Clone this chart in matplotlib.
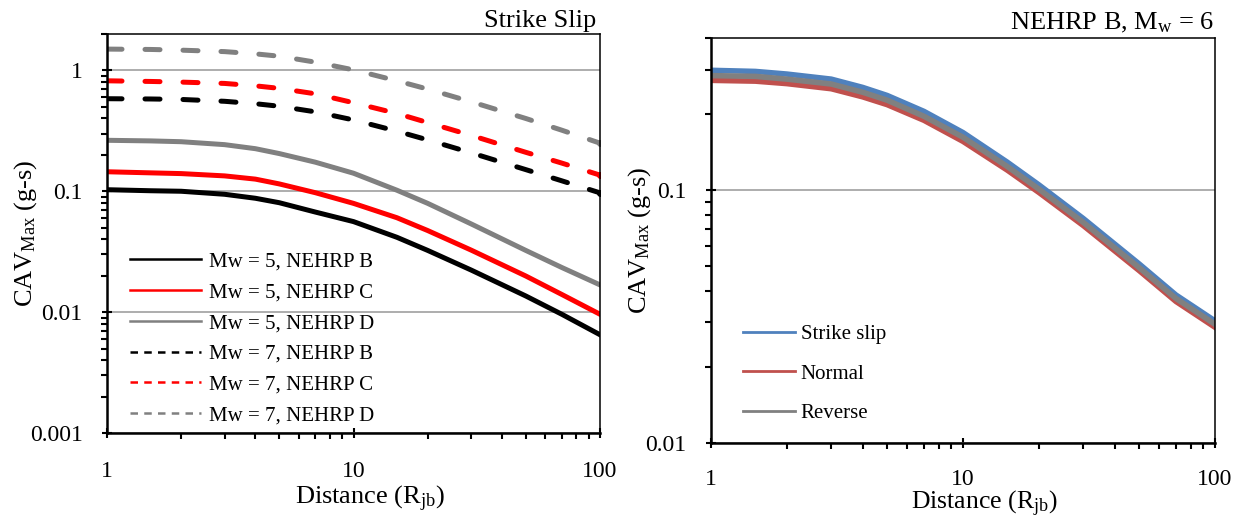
import matplotlib
matplotlib.use("Agg")
import matplotlib.pyplot as plt
from matplotlib.lines import Line2D
from matplotlib.ticker import FixedLocator, FuncFormatter, NullFormatter, LogLocator
import numpy as np

plt.rcParams['font.family'] = ['Liberation Serif', 'DejaVu Serif']
plt.rcParams['mathtext.fontset'] = 'custom'
plt.rcParams['mathtext.rm'] = 'Liberation Serif'
plt.rcParams['mathtext.it'] = 'Liberation Serif:italic'

# distances
dist = [1, 1.5, 2, 3, 4, 5, 7, 10, 15, 20, 30, 50, 70, 100]

# left panel: strike slip, CAVmax (g-s)
m5_b = [0.103, 0.101, 0.100, 0.0944, 0.0875, 0.0804, 0.0673, 0.0561, 0.0416, 0.0324, 0.0223, 0.0136, 0.0096, 0.0065]
m5_c = [0.145, 0.142, 0.140, 0.134, 0.126, 0.115, 0.0973, 0.0794, 0.0604, 0.0473, 0.0326, 0.0199, 0.0140, 0.0096]
m5_d = [0.264, 0.261, 0.257, 0.243, 0.225, 0.205, 0.174, 0.141, 0.102, 0.0794, 0.0537, 0.0324, 0.0234, 0.0168]
m7_b = [0.583, 0.58, 0.575, 0.555, 0.53, 0.505, 0.454, 0.389, 0.314, 0.266, 0.208, 0.151, 0.122, 0.097]
m7_c = [0.82, 0.81, 0.80, 0.78, 0.745, 0.71, 0.64, 0.54, 0.44, 0.37, 0.29, 0.21, 0.171, 0.136]
m7_d = [1.50, 1.49, 1.47, 1.43, 1.37, 1.31, 1.17, 1.01, 0.82, 0.70, 0.55, 0.40, 0.32, 0.25]

# right panel: NEHRP B, Mw = 6
ss = [0.298, 0.295, 0.288, 0.275, 0.255, 0.237, 0.205, 0.169, 0.129, 0.105, 0.0773, 0.0511, 0.0385, 0.0304]
nm = [0.272, 0.270, 0.264, 0.252, 0.234, 0.218, 0.189, 0.156, 0.120, 0.098, 0.0725, 0.0481, 0.0363, 0.0287]
rv = [0.284, 0.282, 0.275, 0.263, 0.244, 0.227, 0.196, 0.162, 0.124, 0.101, 0.0746, 0.0494, 0.0373, 0.0295]

left_labels = ['Mw = 5, NEHRP B', 'Mw = 5, NEHRP C', 'Mw = 5, NEHRP D',
               'Mw = 7, NEHRP B', 'Mw = 7, NEHRP C', 'Mw = 7, NEHRP D']
right_labels = ['Strike slip', 'Normal', 'Reverse']

RED = '#FF0000'
GRAY = '#808080'
BLUE = '#4F81BD'
DRED = '#C0504D'

W, H = 1242, 517
fig = plt.figure(figsize=(12.42, 5.17), dpi=100)
ax1 = fig.add_axes([107 / W, 1 - 433 / H, (600 - 107) / W, (433 - 34) / H])
ax2 = fig.add_axes([711 / W, 1 - 443 / H, (1215 - 711) / W, (443 - 38) / H])


def style_axes(ax, xpad):
    ax.set_xscale('log')
    ax.set_yscale('log')
    ax.set_xlim(1, 100)
    ax.xaxis.set_major_locator(FixedLocator([1, 10, 100]))
    ax.xaxis.set_major_formatter(FuncFormatter(lambda v, p: '%g' % v))
    ax.xaxis.set_minor_locator(LogLocator(base=10, subs=np.arange(2, 10)))
    ax.xaxis.set_minor_formatter(NullFormatter())
    ax.yaxis.set_major_formatter(FuncFormatter(lambda v, p: '%g' % v))
    ax.yaxis.set_minor_locator(LogLocator(base=10, subs=np.arange(2, 10)))
    ax.yaxis.set_minor_formatter(NullFormatter())
    ax.tick_params(which='major', direction='inout', length=7, width=1.5, labelsize=17)
    ax.tick_params(which='minor', direction='out', length=4.5, width=1.5)
    ax.tick_params(axis='x', which='major', pad=xpad)
    ax.tick_params(axis='y', which='major', pad=14)
    ax.yaxis.grid(True, which='major', color='#A0A0A0', lw=1.2)
    ax.set_axisbelow(True)
    for s in ['left', 'bottom']:
        ax.spines[s].set_linewidth(1.8)
    for s in ['top', 'right']:
        ax.spines[s].set_linewidth(1.1)


# ---- left panel ----
style_axes(ax1, 17)
ax1.set_ylim(0.001, 2)
ax1.yaxis.set_major_locator(FixedLocator([0.001, 0.01, 0.1, 1]))

dash = (3.0, 4.6)
ax1.plot(dist, m5_b, color='black', lw=3.6)
ax1.plot(dist, m5_c, color=RED, lw=3.6)
ax1.plot(dist, m5_d, color=GRAY, lw=3.6)
for vals, c in [(m7_b, 'black'), (m7_c, RED), (m7_d, GRAY)]:
    ax1.plot(dist, vals, color=c, lw=3.6, dashes=dash, dash_capstyle='round',
             marker='o', ms=4, markevery=[len(dist) - 1])

handles = [Line2D([], [], color='black', lw=1.8),
           Line2D([], [], color=RED, lw=1.8),
           Line2D([], [], color=GRAY, lw=1.8),
           Line2D([], [], color='black', lw=1.8, dashes=(3, 2.5)),
           Line2D([], [], color=RED, lw=1.8, dashes=(3, 2.5)),
           Line2D([], [], color=GRAY, lw=1.8, dashes=(3, 2.5))]
ax1.legend(handles, left_labels, loc='upper left', bbox_to_anchor=(0.03, 0.475),
           frameon=False, fontsize=15, handlelength=3.4, handletextpad=0.4,
           labelspacing=0.54, borderaxespad=0)

ax1.set_ylabel(r'CAV$_{\mathrm{Max}}$ (g-s)', fontsize=19, va='center')
ax1.yaxis.set_label_coords(-0.165, 0.5)
ax1.set_xlabel(r'Distance (R$_{\mathrm{jb}}$)', fontsize=19, va='baseline')
ax1.xaxis.set_label_coords(0.534, -0.18)
ax1.text(0.992, 1.018, 'Strike Slip', transform=ax1.transAxes, ha='right',
         va='baseline', fontsize=19)

# ---- right panel ----
style_axes(ax2, 15)
ax2.set_ylim(0.01, 0.4)
ax2.yaxis.set_major_locator(FixedLocator([0.01, 0.1]))

ax2.plot(dist, ss, color=BLUE, lw=4)
ax2.plot(dist, nm, color=DRED, lw=4)
ax2.plot(dist, rv, color=GRAY, lw=4)

handles2 = [Line2D([], [], color=BLUE, lw=2),
            Line2D([], [], color=DRED, lw=2),
            Line2D([], [], color=GRAY, lw=2)]
ax2.legend(handles2, right_labels, loc='upper left', bbox_to_anchor=(0.046, 0.313),
           frameon=False, fontsize=15, handlelength=2.5, handletextpad=0.3,
           labelspacing=0.95, borderaxespad=0)

ax2.set_ylabel(r'CAV$_{\mathrm{Max}}$ (g-s)', fontsize=19, va='center')
ax2.yaxis.set_label_coords(-0.141, 0.5)
ax2.set_xlabel(r'Distance (R$_{\mathrm{jb}}$)', fontsize=18.5, va='baseline')
ax2.xaxis.set_label_coords(0.543, -0.164)
ax2.text(0.998, 1.02, r'NEHRP B, M$_{\mathrm{w}}$ = 6', transform=ax2.transAxes,
         ha='right', va='baseline', fontsize=19)

fig.savefig('out.png', dpi=100)
